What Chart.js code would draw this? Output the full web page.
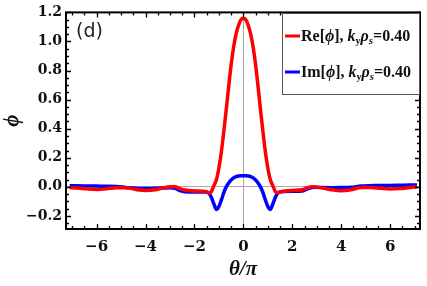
<!DOCTYPE html>
<html>
<head>
<meta charset="utf-8">
<script src="https://cdn.jsdelivr.net/npm/chart.js@4"></script>
<style>
  html, body { margin: 0; padding: 0; background: #fff; }
  #wrap { width: 427px; height: 286px; }
</style>
</head>
<body>
<div id="wrap"><canvas id="phiChart" width="427" height="286"></canvas></div>
<script>
// theta/pi sample points
const theta = [-7.1, -6.8, -6.4, -6.0, -5.6, -5.2, -4.8, -4.4, -4.0, -3.6, -3.3, -3.0, -2.8, -2.6, -2.4, -2.0,
               -1.7, -1.5, -1.4, -1.3, -1.2, -1.1, -1.0, -0.9, -0.8, -0.7, -0.6, -0.5, -0.4, -0.3, -0.2, -0.1,
               0,
               0.1, 0.2, 0.3, 0.4, 0.5, 0.6, 0.7, 0.8, 0.9, 1.0, 1.1, 1.2, 1.3, 1.4, 1.5, 1.7,
               2.0, 2.4, 2.6, 2.8, 3.0, 3.3, 3.6, 4.0, 4.4, 4.8, 5.2, 5.6, 6.0, 6.4, 6.8, 7.1];
const rePhi = [-0.005, -0.008, -0.014, -0.018, -0.014, -0.006, -0.006, -0.018, -0.025, -0.02, -0.008, 0.0, 0.0, -0.012, -0.022, -0.028,
               -0.03, -0.035, -0.042, -0.03, 0.01, 0.05, 0.13, 0.24, 0.38, 0.53, 0.69, 0.84, 0.96, 1.05, 1.11, 1.15,
               1.16,
               1.15, 1.11, 1.05, 0.96, 0.84, 0.69, 0.53, 0.38, 0.24, 0.13, 0.05, 0.01, -0.03, -0.04, -0.035, -0.03,
               -0.025, -0.02, -0.008, 0.0, -0.002, -0.01, -0.02, -0.027, -0.02, -0.005, -0.004, -0.01, -0.015, -0.012, -0.005, 0.0];
const imPhi = [0.008, 0.007, 0.006, 0.005, 0.004, 0.002, -0.004, -0.01, -0.012, -0.01, -0.008, -0.006, -0.01, -0.025, -0.033, -0.035,
               -0.035, -0.035, -0.045, -0.075, -0.12, -0.155, -0.135, -0.09, -0.04, 0.0, 0.027, 0.047, 0.062, 0.071, 0.075, 0.076,
               0.076,
               0.076, 0.075, 0.071, 0.062, 0.047, 0.027, 0.0, -0.04, -0.09, -0.135, -0.155, -0.12, -0.075, -0.045, -0.035, -0.032,
               -0.03, -0.028, -0.015, -0.005, -0.003, -0.005, -0.006, -0.005, -0.003, 0.005, 0.008, 0.01, 0.01, 0.011, 0.012, 0.013];

const xTicks = [-6, -4, -2, 0, 2, 4, 6];
const yTicks = [-0.2, 0.0, 0.2, 0.4, 0.6, 0.8, 1.0, 1.2];
const kyRho = '0.40';
const seriesNames = ['Re', 'Im'];
const seriesColors = ['#ff0000', '#0000ff'];

const serif = "'Liberation Serif', 'DejaVu Serif', serif";
const tickFont = "'DejaVu Serif', serif";

function minusSign(s) { return s.replace('-', '\u2212'); }

// frame + inward ticks on all four sides
const framePlugin = {
  id: 'frame',
  afterDraw(chart) {
    const c = chart.ctx, a = chart.chartArea;
    const xs = chart.scales.x, ys = chart.scales.y;
    c.save();
    c.strokeStyle = '#000';
    c.lineWidth = 1.3;
    c.beginPath();
    for (let v = -7; v <= 7.001; v += 0.5) {
      const px = Math.round(xs.getPixelForValue(v)) + 0.5;
      const len = (Math.abs(v % 2) < 1e-6) ? 5 : 3;
      c.moveTo(px, a.bottom); c.lineTo(px, a.bottom - len);
      c.moveTo(px, a.top); c.lineTo(px, a.top + len);
    }
    for (let v = -0.25; v <= 1.2001; v += 0.05) {
      const py = Math.round(ys.getPixelForValue(v)) + 0.5;
      const isMajor = Math.abs(Math.round(v * 5) - v * 5) < 1e-6;
      const len = isMajor ? 5 : 3;
      c.moveTo(a.left, py); c.lineTo(a.left + len, py);
      c.moveTo(a.right, py); c.lineTo(a.right - len, py);
    }
    c.stroke();
    c.lineWidth = 2;
    c.strokeRect(a.left, a.top, a.right - a.left, a.bottom - a.top);

    // panel label
    c.fillStyle = '#222';
    c.font = "19px 'DejaVu Sans', sans-serif";
    c.textBaseline = 'alphabetic';
    c.textAlign = 'left';
    c.fillText('(d)', 76, 37);
    c.restore();
  }
};

// legend with subscripts and italics
const legendPlugin = {
  id: 'richLegend',
  afterDraw(chart) {
    const c = chart.ctx;
    const box = { x: 282.5, y: 13.5, w: 137, h: 81 };
    c.save();
    c.fillStyle = '#fff';
    c.fillRect(box.x, box.y, box.w, box.h);
    c.strokeStyle = '#555';
    c.lineWidth = 1;
    c.strokeRect(box.x, box.y, box.w, box.h);
    const rows = [36, 72];
    chart.data.datasets.forEach((ds, i) => {
      const y = rows[i];
      c.strokeStyle = ds.borderColor;
      c.lineWidth = 3;
      c.beginPath();
      c.moveTo(285, y); c.lineTo(300, y);
      c.stroke();
      const segs = [
        { t: seriesNames[i] + '[', f: 'bold 16px ' + serif, dy: 0 },
        { t: '\u03D5', f: 'italic bold 16px ' + serif, dy: 0 },
        { t: '], ', f: 'bold 16px ' + serif, dy: 0 },
        { t: 'k', f: 'italic bold 16px ' + serif, dy: 0 },
        { t: 'y', f: 'bold 10px ' + serif, dy: 3 },
        { t: '\u03C1', f: 'italic bold 16px ' + serif, dy: 0 },
        { t: 's', f: 'italic bold 11px ' + serif, dy: 3 },
        { t: '=' + kyRho, f: 'bold 16px ' + serif, dy: 0 }
      ];
      let x = 301;
      c.fillStyle = '#111';
      c.textBaseline = 'alphabetic';
      c.textAlign = 'left';
      segs.forEach(s => {
        c.font = s.f;
        c.fillText(s.t, x, y + 5 + s.dy);
        x += c.measureText(s.t).width;
      });
    });
    c.restore();
  }
};

new Chart(document.getElementById('phiChart'), {
  type: 'line',
  data: {
    datasets: [
      {
        label: 'Re[\u03D5], k_y\u03C1_s=' + kyRho,
        data: theta.map((t, i) => ({ x: t, y: rePhi[i] })),
        borderColor: seriesColors[0],
        borderWidth: 3.5,
        pointRadius: 0,
        cubicInterpolationMode: 'monotone',
        fill: false
      },
      {
        label: 'Im[\u03D5], k_y\u03C1_s=' + kyRho,
        data: theta.map((t, i) => ({ x: t, y: imPhi[i] })),
        borderColor: seriesColors[1],
        borderWidth: 3.5,
        pointRadius: 0,
        cubicInterpolationMode: 'monotone',
        fill: false
      }
    ]
  },
  options: {
    responsive: false,
    animation: false,
    devicePixelRatio: 1,
    layout: { padding: { top: 10, right: 7, left: 0, bottom: 0 } },
    plugins: { legend: { display: false }, tooltip: { enabled: false } },
    scales: {
      x: {
        type: 'linear',
        min: -7.25,
        max: 7.22,
        afterBuildTicks: s => { s.ticks = xTicks.map(v => ({ value: v })); },
        afterFit: s => { s.height = 57; },
        grid: {
          drawTicks: false,
          color: ctx => (ctx.tick && ctx.tick.value === 0) ? '#aaa' : 'rgba(0,0,0,0)',
          lineWidth: 1
        },
        border: { display: false },
        ticks: {
          padding: 9,
          color: '#111',
          font: { family: tickFont, size: 15, weight: 'bold' },
          callback: v => minusSign(String(v))
        },
        title: {
          display: true,
          text: '\u03B8/\u03C0',
          color: '#111',
          font: { family: serif, size: 21, weight: 'bold', style: 'italic' },
          padding: { top: 0, bottom: 4 }
        }
      },
      y: {
        type: 'linear',
        min: -0.29,
        max: 1.2,
        afterBuildTicks: s => { s.ticks = yTicks.map(v => ({ value: v })); },
        afterFit: s => { s.width = 66; },
        grid: {
          drawTicks: false,
          color: ctx => (ctx.tick && Math.abs(ctx.tick.value) < 1e-9) ? '#aaa' : 'rgba(0,0,0,0)',
          lineWidth: 1
        },
        border: { display: false },
        ticks: {
          padding: 4,
          color: '#111',
          font: { family: tickFont, size: 14, weight: 'bold' },
          callback: v => minusSign(v.toFixed(1))
        },
        title: {
          display: true,
          text: '\u03D5',
          color: '#111',
          font: { family: serif, size: 21, weight: 'bold', style: 'italic' },
          padding: { top: 0, bottom: 0 }
        }
      }
    }
  },
  plugins: [framePlugin, legendPlugin]
});
</script>
</body>
</html>
